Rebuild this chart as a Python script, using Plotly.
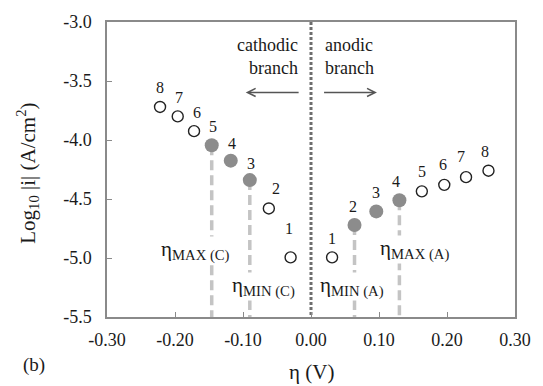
import plotly.graph_objects as go

# ---- data ----
cath_eta = [-0.222, -0.196, -0.172, -0.146, -0.118, -0.090, -0.062, -0.030]
cath_logi = [-3.72, -3.80, -3.925, -4.045, -4.175, -4.34, -4.58, -4.995]
cath_labels = ["8", "7", "6", "5", "4", "3", "2", "1"]
cath_filled = [False, False, False, True, True, True, False, False]

anod_eta = [0.031, 0.064, 0.096, 0.130, 0.163, 0.196, 0.228, 0.261]
anod_logi = [-4.995, -4.72, -4.605, -4.51, -4.435, -4.38, -4.315, -4.26]
anod_labels = ["1", "2", "3", "4", "5", "6", "7", "8"]
anod_filled = [False, True, True, True, False, False, False, False]

x_ticks = [-0.30, -0.20, -0.10, 0.00, 0.10, 0.20, 0.30]
x_ticktext = ["-0.30", "-0.20", "-0.10", "0.00", "0.10", "0.20", "0.30"]
y_ticks = [-3.0, -3.5, -4.0, -4.5, -5.0, -5.5]
y_ticktext = ["-3.0", "-3.5", "-4.0", "-4.5", "-5.0", "-5.5"]

# eta markers: (eta value, logi at top, text, label x, label y)
eta_lines = [
    (cath_eta[3], cath_logi[3], "η<sub>MAX (C)</sub>", -0.170, -4.94),
    (cath_eta[5], cath_logi[5], "η<sub>MIN (C)</sub>", -0.070, -5.24),
    (anod_eta[1], anod_logi[1], "η<sub>MIN (A)</sub>", 0.061, -5.24),
    (anod_eta[3], anod_logi[3], "η<sub>MAX (A)</sub>", 0.152, -4.93),
]

SERIF = "Liberation Serif"
FILL = "#8c8c8c"
TXT = "#1a1a1a"

fig = go.Figure()

# dashed vertical lines
for ex, ey, _, _, _ in eta_lines:
    fig.add_trace(go.Scatter(x=[ex, ex], y=[ey, -5.5], mode="lines",
                             line=dict(color="#c4c4c4", width=3.5, dash="10px,5px"),
                             hoverinfo="skip", showlegend=False))

# zero line
fig.add_trace(go.Scatter(x=[0, 0], y=[-3.0, -5.5], mode="lines",
                         line=dict(color="#6e6e6e", width=3, dash="3px,2px"),
                         hoverinfo="skip", showlegend=False))

def add_series(xs, ys, filled):
    ox = [x for x, f in zip(xs, filled) if not f]
    oy = [y for y, f in zip(ys, filled) if not f]
    fx = [x for x, f in zip(xs, filled) if f]
    fy = [y for y, f in zip(ys, filled) if f]
    fig.add_trace(go.Scatter(x=ox, y=oy, mode="markers",
                             marker=dict(symbol="circle-open", size=11, color="#222",
                                         line=dict(width=1.4, color="#222")),
                             showlegend=False))
    fig.add_trace(go.Scatter(x=fx, y=fy, mode="markers",
                             marker=dict(symbol="circle", size=14, color=FILL,
                                         line=dict(width=0)),
                             showlegend=False))

add_series(cath_eta, cath_logi, cath_filled)
add_series(anod_eta, anod_logi, anod_filled)

annotations = []
# point numbers
cath_shift = [(0, 19), (1, 19), (3, 19), (1, 19), (1, 17), (1, 17), (7, 20), (-2, 29)]
anod_shift = [(0, 19), (-2, 18), (0, 19), (-3, 19), (0, 20), (-1, 20), (-5, 21), (-3, 19)]
for xs, ys, labs, shifts in [(cath_eta, cath_logi, cath_labels, cath_shift),
                              (anod_eta, anod_logi, anod_labels, anod_shift)]:
    for x, y, t, (dx, dy) in zip(xs, ys, labs, shifts):
        annotations.append(dict(x=x, y=y, text=t, showarrow=False, xshift=dx, yshift=dy,
                                xanchor="center", yanchor="middle",
                                font=dict(family=SERIF, size=16, color=TXT)))

# eta labels
for _, _, t, lx, ly in eta_lines:
    annotations.append(dict(x=lx, y=ly, text=t, showarrow=False, bgcolor="white",
                            borderpad=0, xanchor="center", yanchor="middle",
                            font=dict(family=SERIF, size=21, color=TXT)))

# branch texts
annotations.append(dict(x=-0.016, y=-3.29, text="cathodic<br>branch", showarrow=False,
                        xanchor="right", yanchor="middle", align="right",
                        font=dict(family=SERIF, size=18, color=TXT)))
annotations.append(dict(x=0.017, y=-3.29, text="anodic<br>branch", showarrow=False,
                        xanchor="left", yanchor="middle", align="left",
                        font=dict(family=SERIF, size=18, color=TXT)))
# arrows
annotations.append(dict(x=-0.096, y=-3.597, ax=-0.016, ay=-3.597, axref="x", ayref="y",
                        text="", showarrow=True, arrowhead=5, arrowsize=1, arrowwidth=1.6,
                        arrowcolor="#555"))
annotations.append(dict(x=0.097, y=-3.597, ax=0.017, ay=-3.597, axref="x", ayref="y",
                        text="", showarrow=True, arrowhead=5, arrowsize=1, arrowwidth=1.6,
                        arrowcolor="#555"))

# axis titles and panel label
annotations.append(dict(xref="paper", yref="paper", x=-0.195, y=0.487, textangle=-90,
                        xanchor="center", yanchor="middle",
                        text="Log<sub>10</sub> |i| (A/cm<sup>2</sup>)", showarrow=False,
                        font=dict(family=SERIF, size=21, color=TXT)))
annotations.append(dict(xref="paper", yref="paper", x=0.5, y=-0.185,
                        xanchor="center", yanchor="middle",
                        text="η (V)", showarrow=False,
                        font=dict(family=SERIF, size=21, color=TXT)))
annotations.append(dict(xref="paper", yref="paper", x=-0.179, y=-0.164,
                        xanchor="center", yanchor="middle",
                        text="(b)", showarrow=False,
                        font=dict(family=SERIF, size=19, color=TXT)))

axis_common = dict(showgrid=False, zeroline=False, showline=True, linecolor="#8a8a8a",
                   linewidth=1.5, mirror=True, ticks="inside", ticklen=5,
                   tickcolor="#8a8a8a", tickfont=dict(family=SERIF, size=18, color=TXT))

fig.update_layout(
    width=543, height=386,
    margin=dict(l=107, r=16, t=19, b=69),
    paper_bgcolor="white", plot_bgcolor="white",
    showlegend=False,
    annotations=annotations,
    xaxis=dict(range=[-0.30, 0.30], tickvals=x_ticks, ticktext=x_ticktext,
               ticklabelstandoff=6, **axis_common),
    yaxis=dict(range=[-5.5, -3.0], tickvals=y_ticks, ticktext=y_ticktext,
               ticklabelstandoff=10, **axis_common),
)

fig.write_html("out.html")
